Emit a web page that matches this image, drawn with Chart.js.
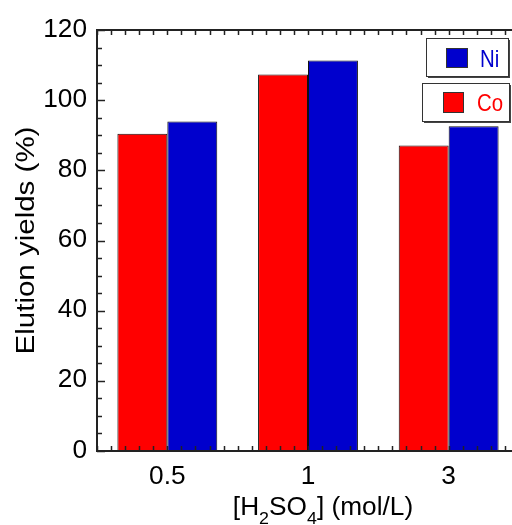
<!DOCTYPE html>
<html>
<head>
<meta charset="utf-8">
<script src="https://cdn.jsdelivr.net/npm/chart.js@4"></script>
<style>
  html, body { margin: 0; background: #fff; overflow: hidden; }
  canvas { display: block; }
</style>
</head>
<body>
<canvas id="myChart" width="519" height="525"></canvas>
<script>
// catégories et valeurs
const concentrations = ['0.5', '1', '3'];
const coYields = [90.4, 107.3, 87.1];
const niYields = [93.9, 111.3, 92.6];
const yTicks = [0, 20, 40, 60, 80, 100, 120];

const FONT = '"Liberation Sans", Arial, sans-serif';
const RED = '#ff0000';
const BLUE = '#0000cd';

// texte un peu étiré horizontalement, comme sur l'original
function texte(ctx, str, x, y, size, align, stretch) {
  ctx.save();
  ctx.font = size + 'px ' + FONT;
  ctx.textBaseline = 'alphabetic';
  ctx.textAlign = 'left';
  const w = ctx.measureText(str).width * stretch;
  let x0 = x;
  if (align === 'center') x0 = x - w / 2;
  if (align === 'right') x0 = x - w;
  ctx.translate(x0, y);
  ctx.scale(stretch, 1);
  ctx.fillText(str, 0, 0);
  ctx.restore();
  return w;
}

// cadre, graduations, étiquettes, légende et titres des axes
const decorPlugin = {
  id: 'decor',
  afterDatasetsDraw(chart) {
    const ctx = chart.ctx;
    const area = chart.chartArea;
    const x = chart.scales.x;
    const y = chart.scales.y;
    ctx.save();
    ctx.strokeStyle = '#222';
    ctx.lineWidth = 1.5;

    // graduations de l'axe y (toutes les 5 unités)
    for (let v = 0; v <= 120; v += 5) {
      const py = Math.round(y.getPixelForValue(v)) + 0.5;
      const len = v % 20 === 0 ? 8 : 5;
      ctx.beginPath();
      ctx.moveTo(area.left, py);
      ctx.lineTo(area.left + len, py);
      ctx.stroke();
    }

    // graduations de l'axe x (10 par catégorie), en bas et en haut
    const w = x.getPixelForValue(1) - x.getPixelForValue(0);
    const x0 = x.getPixelForValue(0) - w / 2;
    for (let k = 0; k <= concentrations.length * 10; k++) {
      const px = Math.round(x0 + k * w / 10) + 0.5;
      ctx.beginPath();
      ctx.moveTo(px, area.bottom);
      ctx.lineTo(px, area.bottom - 5);
      ctx.moveTo(px, area.top);
      ctx.lineTo(px, area.top + 5);
      ctx.stroke();
    }

    // cadre
    ctx.lineWidth = 2;
    ctx.beginPath();
    ctx.moveTo(area.right, area.top);
    ctx.lineTo(area.left, area.top);
    ctx.lineTo(area.left, area.bottom);
    ctx.lineTo(area.right, area.bottom);
    ctx.stroke();

    // étiquettes des axes
    ctx.fillStyle = '#000';
    yTicks.forEach(v => {
      texte(ctx, String(v), area.left - 10, y.getPixelForValue(v) + 6.5, 25, 'right', 1.05);
    });
    concentrations.forEach((c, i) => {
      texte(ctx, c, x.getPixelForValue(i), 484, 25, 'center', 1.05);
    });

    // légende : Ni en haut, Co en dessous
    const items = [
      { ds: chart.data.datasets[1], box: [426, 38, 82, 38], sw: [446, 48, 21, 19], tx: 480, ty: 67 },
      { ds: chart.data.datasets[0], box: [422, 83, 87, 38], sw: [443, 92, 20, 20], tx: 477, ty: 111 }
    ];
    items.forEach(it => {
      const [bx, by, bw, bh] = it.box;
      ctx.fillStyle = '#fff';
      ctx.fillRect(bx, by, bw, bh);
      ctx.fillStyle = '#444';
      ctx.fillRect(bx + 2, by + bh, bw, 2);
      ctx.fillRect(bx + bw, by + 2, 2, bh);
      ctx.strokeStyle = '#333';
      ctx.lineWidth = 1;
      ctx.strokeRect(bx + 0.5, by + 0.5, bw, bh);
      const [sx, sy, sw, sh] = it.sw;
      ctx.fillStyle = it.ds.backgroundColor;
      ctx.fillRect(sx, sy, sw, sh);
      ctx.strokeStyle = '#333';
      ctx.strokeRect(sx + 0.5, sy + 0.5, sw, sh);
      ctx.fillStyle = it.ds.backgroundColor;
      texte(ctx, it.ds.label, it.tx, it.ty, 24, 'left', 0.85);
    });

    // titre de l'axe y
    ctx.fillStyle = '#000';
    ctx.save();
    ctx.translate(34, (area.top + area.bottom) / 2);
    ctx.rotate(-Math.PI / 2);
    texte(ctx, 'Elution yields (%)', 0, 0, 25, 'center', 1.18);
    ctx.restore();

    // titre de l'axe x avec indices
    const parts = [
      { t: '[H', sub: false }, { t: '2', sub: true }, { t: 'SO', sub: false },
      { t: '4', sub: true }, { t: '] (mol/L)', sub: false }
    ];
    const st = 1.05;
    let total = 0;
    parts.forEach(p => {
      ctx.font = (p.sub ? '17px ' : '25px ') + FONT;
      p.w = ctx.measureText(p.t).width * st;
      total += p.w;
    });
    let tx = 323 - total / 2;
    parts.forEach(p => {
      texte(ctx, p.t, tx, p.sub ? 524 : 515, p.sub ? 17 : 25, 'left', st);
      tx += p.w;
    });
    ctx.restore();
  }
};

const ctx = document.getElementById('myChart').getContext('2d');
const myChart = new Chart(ctx, {
  type: 'bar',
  data: {
    labels: concentrations,
    datasets: [
      {
        label: 'Co',
        data: coYields,
        backgroundColor: RED,
        borderColor: '#111',
        borderWidth: 1,
        categoryPercentage: 0.71,
        barPercentage: 1
      },
      {
        label: 'Ni',
        data: niYields,
        backgroundColor: BLUE,
        borderColor: '#111',
        borderWidth: 1,
        categoryPercentage: 0.71,
        barPercentage: 1
      }
    ]
  },
  options: {
    responsive: false,
    animation: false,
    layout: { padding: { left: 0, right: 0, top: 30, bottom: 0 } },
    plugins: {
      legend: { display: false },
      tooltip: { enabled: false }
    },
    scales: {
      x: {
        grid: { display: false },
        border: { display: false },
        ticks: { display: false },
        afterFit(scale) { scale.height = 74; }
      },
      y: {
        min: 0,
        max: 120,
        grid: { display: false },
        border: { display: false },
        ticks: { display: false },
        afterFit(scale) { scale.width = 97; }
      }
    }
  },
  plugins: [decorPlugin]
});
</script>
</body>
</html>
